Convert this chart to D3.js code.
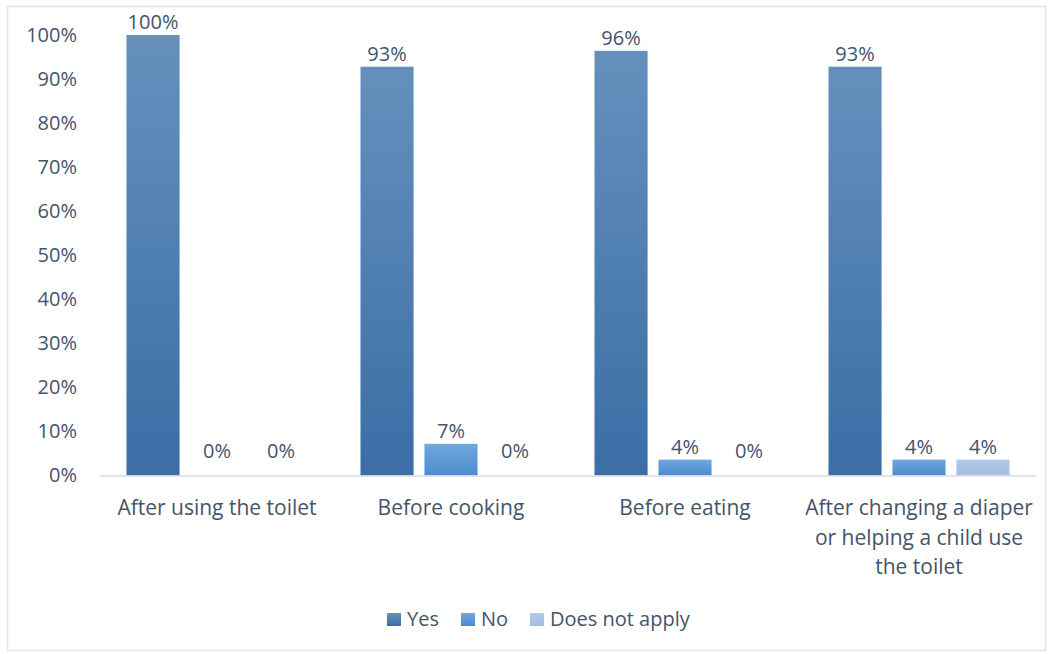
<!DOCTYPE html>
<html>
<head>
<meta charset="utf-8">
<script src="https://cdn.jsdelivr.net/npm/d3@7"></script>
<style>
  body { margin: 0; background: #fff; }
  svg { display: block; font-family: "Open Sans", "Noto Sans", sans-serif; }
</style>
</head>
<body>
<div id="chart"></div>
<script>
// categories and series values (percent)
const categories = [
  ["After using the toilet"],
  ["Before cooking"],
  ["Before eating"],
  ["After changing a diaper", "or helping a child use", "the toilet"]
];
const seriesNames = ["Yes", "No", "Does not apply"];
const yesValues = [100, 92.8, 96.4, 92.8];
const noValues = [0, 7.2, 3.6, 3.6];
const naValues = [0, 0, 0, 3.6];
const yTicks = [0, 10, 20, 30, 40, 50, 60, 70, 80, 90, 100];

const width = 1052, height = 654;
const margin = { top: 35, right: 16, bottom: 178, left: 100 };
const textColor = "#44546a";
const fontSize = "20px";

const svg = d3.select("#chart").append("svg")
  .attr("width", width)
  .attr("height", height);

// gradients, Excel style
const grads = [
  { id: "g0", top: "#6590bd", bottom: "#3a6ea5" },
  { id: "g1", top: "#72a7dc", bottom: "#4a8dcd" },
  { id: "g2", top: "#b2c9e8", bottom: "#a3bee2" }
];
const defs = svg.append("defs");
grads.forEach(g => {
  const lg = defs.append("linearGradient").attr("id", g.id)
    .attr("x1", 0).attr("y1", 0).attr("x2", 0).attr("y2", 1);
  lg.append("stop").attr("offset", "0%").attr("stop-color", g.top);
  lg.append("stop").attr("offset", "100%").attr("stop-color", g.bottom);
});

// chart frame
svg.append("rect")
  .attr("x", 7.5).attr("y", 6.5)
  .attr("width", width - 14).attr("height", height - 10)
  .attr("fill", "none")
  .attr("stroke", "#dfe3ea")
  .attr("stroke-width", 1.5);

const plotW = width - margin.left - margin.right;
const baseY = 475.5;

const x0 = d3.scaleBand()
  .domain(d3.range(categories.length))
  .range([margin.left, margin.left + plotW]);

const x1 = d3.scaleBand()
  .domain(d3.range(seriesNames.length))
  .range([26.5, x0.bandwidth() - 26.5])
  .paddingInner(0.17);

const y = d3.scaleLinear()
  .domain([0, 100])
  .range([baseY, margin.top]);

// y axis labels
const yAxis = svg.append("g")
  .attr("transform", `translate(${margin.left}, 0)`)
  .call(d3.axisLeft(y).tickValues(yTicks).tickFormat(d => d + "%").tickSize(0).tickPadding(23));
yAxis.select(".domain").remove();
yAxis.selectAll(".tick text")
  .attr("fill", textColor)
  .style("font-size", fontSize)
  .style("font-family", "'Open Sans', sans-serif");

// bars
const allValues = [yesValues, noValues, naValues];
const groups = svg.append("g").selectAll("g")
  .data(categories)
  .join("g")
  .attr("transform", (d, i) => `translate(${x0(i)}, 0)`);

groups.selectAll("rect")
  .data((d, i) => allValues.map((vals, s) => ({ s, v: vals[i] })))
  .join("rect")
  .attr("x", d => x1(d.s))
  .attr("y", d => y(d.v))
  .attr("width", x1.bandwidth())
  .attr("height", d => y(0) - y(d.v))
  .attr("fill", d => `url(#g${d.s})`);

groups.selectAll("text.lbl")
  .data((d, i) => allValues.map((vals, s) => ({ s, v: vals[i] })))
  .join("text")
  .attr("class", "lbl")
  .attr("x", d => x1(d.s) + x1.bandwidth() / 2)
  .attr("y", d => Math.min(y(d.v) - 6, y(0) - 18))
  .attr("text-anchor", "middle")
  .attr("fill", textColor)
  .style("font-size", fontSize)
  .text(d => Math.round(d.v) + "%");

// x axis line
svg.append("line")
  .attr("x1", margin.left).attr("x2", margin.left + plotW)
  .attr("y1", y(0) + 0.5).attr("y2", y(0) + 0.5)
  .attr("stroke", "#d9dee6")
  .attr("stroke-width", 1.5);

// category labels
const catLabels = svg.append("g").selectAll("text")
  .data(categories)
  .join("text")
  .attr("x", (d, i) => x0(i) + x0.bandwidth() / 2)
  .attr("y", 515)
  .attr("text-anchor", "middle")
  .attr("fill", textColor)
  .style("font-size", "21px");
catLabels.selectAll("tspan")
  .data(d => d)
  .join("tspan")
  .attr("x", function () { return d3.select(this.parentNode).attr("x"); })
  .attr("dy", (d, i) => i === 0 ? 0 : 29.5)
  .text(d => d);

// legend
const legendX = [387, 461, 530];
const legend = svg.append("g").selectAll("g")
  .data(seriesNames)
  .join("g")
  .attr("transform", (d, i) => `translate(${legendX[i]}, 613)`);
legend.append("rect")
  .attr("width", 14).attr("height", 13)
  .attr("fill", (d, i) => `url(#g${i})`);
legend.append("text")
  .attr("x", 20).attr("y", 13)
  .attr("fill", textColor)
  .style("font-size", fontSize)
  .text(d => d);
</script>
</body>
</html>
